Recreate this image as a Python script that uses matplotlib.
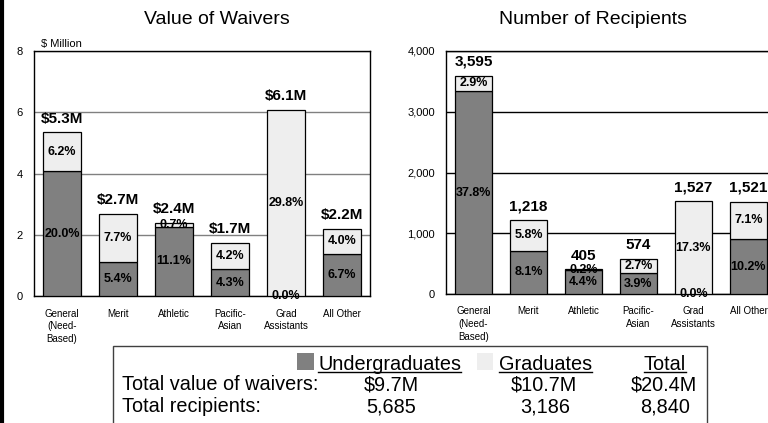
import matplotlib.pyplot as plt
from matplotlib.patches import Rectangle
from matplotlib.lines import Line2D

plt.rcParams['font.family'] = ['Liberation Sans', 'DejaVu Sans']

categories = ['General\n(Need-\nBased)', 'Merit', 'Athletic', 'Pacific-\nAsian', 'Grad\nAssistants', 'All Other']

# value of waivers, $ million
value_under = [4.08, 1.10, 2.26, 0.88, 0.0, 1.37]
value_grad = [1.26, 1.57, 0.14, 0.86, 6.08, 0.82]
value_under_pct = ['20.0%', '5.4%', '11.1%', '4.3%', '0.0%', '6.7%']
value_grad_pct = ['6.2%', '7.7%', '0.7%', '4.2%', '29.8%', '4.0%']
value_totals = ['$5.3M', '$2.7M', '$2.4M', '$1.7M', '$6.1M', '$2.2M']

# number of recipients
count_under = [3340, 712, 388, 338, 0, 900]
count_grad = [255, 506, 17, 236, 1527, 621]
count_under_pct = ['37.8%', '8.1%', '4.4%', '3.9%', '0.0%', '10.2%']
count_grad_pct = ['2.9%', '5.8%', '0.2%', '2.7%', '17.3%', '7.1%']
count_totals = ['3,595', '1,218', '405', '574', '1,527', '1,521']

# summary table
row_labels = ['Total value of waivers:', 'Total recipients:']
under_totals = ['$9.7M', '5,685']
grad_totals = ['$10.7M', '3,186']
all_totals = ['$20.4M', '8,840']

UNDER = '#808080'
GRAD = '#eeeeee'
W, H = 768, 423


def px(x, y):
    return x / W, 1 - y / H


def draw_panel(ax, under, grad, under_pct, grad_pct, totals, yticks, ylabels, grid_color):
    x = range(len(categories))
    ax.bar(x, under, width=0.68, color=UNDER, edgecolor='black', linewidth=0.9, zorder=3)
    ax.bar(x, grad, width=0.68, bottom=under, color=GRAD, edgecolor='black', linewidth=0.9, zorder=3)
    for i in x:
        ax.text(i, under[i] / 2, under_pct[i], ha='center', va='center',
                fontsize=9, fontweight='bold', zorder=4)
        ax.text(i, under[i] + grad[i] / 2, grad_pct[i], ha='center', va='center',
                fontsize=9, fontweight='bold', zorder=4)
        ax.annotate(totals[i], (i, under[i] + grad[i]), xytext=(0, 10),
                    textcoords='offset points', ha='center', va='center',
                    fontsize=11, fontweight='bold', zorder=4)
    ax.set_xlim(-0.5, len(categories) - 0.5)
    ax.set_ylim(yticks[0], yticks[-1])
    ax.set_yticks(yticks)
    ax.set_yticklabels(ylabels, fontsize=8)
    ax.set_xticks(list(x))
    ax.set_xticklabels(categories, fontsize=7, linespacing=1.35)
    ax.tick_params(axis='both', length=0)
    ax.tick_params(axis='x', pad=9)
    ax.tick_params(axis='y', pad=8)
    ax.yaxis.grid(True, color=grid_color, linewidth=1, zorder=0)
    for s in ax.spines.values():
        s.set_color('black')
        s.set_linewidth(1)


fig = plt.figure(figsize=(7.68, 4.23), dpi=100)

ax1 = fig.add_axes([34 / W, 1 - 296 / H, 336 / W, 245 / H])
draw_panel(ax1, value_under, value_grad, value_under_pct, value_grad_pct, value_totals,
           [0, 2, 4, 6, 8], ['0', '2', '4', '6', '8'], '#808080')
ax1.text(0.02, 1.01, '$ Million', transform=ax1.transAxes, fontsize=8, va='bottom')

ax2 = fig.add_axes([446 / W, 1 - 294 / H, 330 / W, 243 / H])
draw_panel(ax2, count_under, count_grad, count_under_pct, count_grad_pct, count_totals,
           [0, 1000, 2000, 3000, 4000], ['0', '1,000', '2,000', '3,000', '4,000'], 'black')

fig.text(*px(217, 20), 'Value of Waivers', ha='center', va='center', fontsize=14)
fig.text(*px(593, 20), 'Number of Recipients', ha='center', va='center', fontsize=14)

# left page border
fig.add_artist(Line2D([2 / W, 2 / W], [0, 1], color='black', linewidth=3))

# summary box
x0, y0 = px(113, 430)
x1, y1 = px(707, 346)
fig.add_artist(Rectangle((x0, y0), x1 - x0, y1 - y0, transform=fig.transFigure,
                         facecolor='white', edgecolor='#404040', linewidth=1))

fs = 14.3
fig.add_artist(Rectangle(px(297, 370), 17 / W, 17 / H, transform=fig.transFigure,
                         facecolor=UNDER, edgecolor='none'))
fig.add_artist(Rectangle(px(477, 370), 16 / W, 17 / H, transform=fig.transFigure,
                         facecolor=GRAD, edgecolor='none'))
headers = [
    fig.text(*px(318, 370), 'Undergraduates', ha='left', va='baseline', fontsize=fs),
    fig.text(*px(499, 370), 'Graduates', ha='left', va='baseline', fontsize=fs),
    fig.text(*px(665, 370), 'Total', ha='center', va='baseline', fontsize=fs),
]

row_y = [390, 412]
under_x = [391, 391]
grad_x = [544, 545]
total_x = [664, 665]
for k in range(len(row_labels)):
    fig.text(*px(122, row_y[k]), row_labels[k], ha='left', va='baseline', fontsize=fs)
    fig.text(*px(under_x[k], row_y[k]), under_totals[k], ha='center', va='baseline', fontsize=fs)
    fig.text(*px(grad_x[k], row_y[k]), grad_totals[k], ha='center', va='baseline', fontsize=fs)
    fig.text(*px(total_x[k], row_y[k]), all_totals[k], ha='center', va='baseline', fontsize=fs)

# underline the headers, just below the baseline
fig.canvas.draw()
r = fig.canvas.get_renderer()
for t in headers:
    bb = t.get_window_extent(r)
    _, yy = px(0, 372)
    fig.add_artist(Line2D([bb.x0 / W, bb.x1 / W], [yy, yy], color='black', linewidth=1))

fig.savefig('out.png', dpi=100)
